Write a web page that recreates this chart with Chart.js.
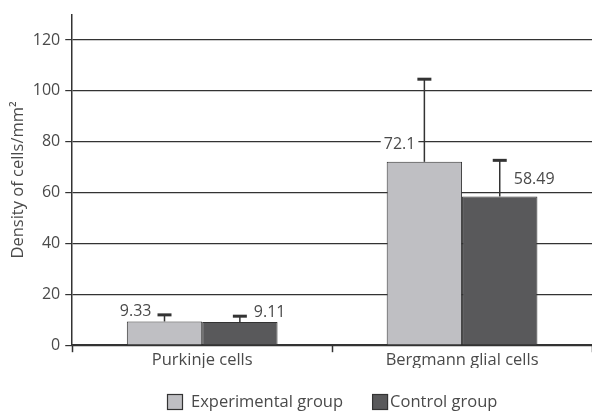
<!DOCTYPE html>
<html><head><meta charset="utf-8">
<script src="https://cdn.jsdelivr.net/npm/chart.js@4.4.1/dist/chart.umd.min.js"></script>
<style>html,body{margin:0;padding:0;background:#fff}#wrap{width:592px;height:412px}</style>
</head><body><div id="wrap"><canvas id="c" width="592" height="412"></canvas></div>
<script>
const categories = ["Purkinje cells", "Bergmann glial cells"];
const seriesNames = ["Experimental group", "Control group"];
const experimental = [9.33, 72.1];
const control = [9.11, 58.49];
const experimentalErr = [2.6, 32.5];
const controlErr = [2.3, 14.2];
const valueLabels = [["9.33", "72.1"], ["9.11", "58.49"]];
const yTicks = [0, 20, 40, 60, 80, 100, 120];

const FONT = "'Open Sans', 'Noto Sans', sans-serif";
const TXT = '#4a4a4a';
const FS = 16.5;

const errPlugin = {
  id: 'err',
  afterDatasetsDraw(chart) {
    const ctx = chart.ctx, y = chart.scales.y;
    const errs = [experimentalErr, controlErr];
    chart.data.datasets.forEach((ds, di) => {
      const meta = chart.getDatasetMeta(di);
      meta.data.forEach((bar, i) => {
        const v = ds.data[i], e = errs[di][i];
        const x = bar.x, y0 = y.getPixelForValue(v), y1 = y.getPixelForValue(v + e);
        ctx.save();
        ctx.strokeStyle = '#333';
        ctx.lineWidth = 1.5;
        ctx.beginPath(); ctx.moveTo(x, y0); ctx.lineTo(x, y1); ctx.stroke();
        ctx.lineWidth = 3;
        ctx.beginPath(); ctx.moveTo(x - 7, y1); ctx.lineTo(x + 7, y1); ctx.stroke();
        const txt = valueLabels[di][i];
        ctx.font = "16px " + FONT;
        ctx.textBaseline = 'middle';
        const ly = y0 - (i === 0 ? 10 : 17);
        const w = ctx.measureText(txt).width;
        let tx;
        if (di === 0) { ctx.textAlign = 'right'; tx = x - (i === 0 ? 13 : 9); ctx.fillStyle = '#fff'; ctx.fillRect(tx - w - 3, ly - 9, w + 6, 18); }
        else { ctx.textAlign = 'left'; tx = x + 14; ctx.fillStyle = '#fff'; ctx.fillRect(tx - 3, ly - 9, w + 6, 18); }
        ctx.fillStyle = TXT;
        ctx.fillText(txt, tx, ly);
        ctx.restore();
      });
    });
  }
};

const legendPlugin = {
  id: 'customLegend',
  afterDraw(chart) {
    const ctx = chart.ctx;
    ctx.save();
    ctx.font = FS + "px " + FONT;
    ctx.textBaseline = 'middle';
    ctx.textAlign = 'left';
    const cy = 402, box = 15;
    const items = chart.data.datasets.map(ds => ({ text: ds.label, fill: ds.backgroundColor }));
    const gapBox = 9, gapItem = 29;
    let x = 167;
    items.forEach((it, i) => {
      ctx.fillStyle = it.fill;
      ctx.fillRect(x + 0.5, cy - box / 2, box, box);
      ctx.strokeStyle = '#333'; ctx.lineWidth = 1.2;
      ctx.strokeRect(x + 0.5, cy - box / 2, box, box);
      x += box + (i === 0 ? gapBox : 3);
      ctx.fillStyle = TXT;
      ctx.fillText(it.text, x, cy);
      x += ctx.measureText(it.text).width + gapItem;
    });
    ctx.restore();
  }
};

new Chart(document.getElementById('c'), {
  type: 'bar',
  data: {
    labels: categories,
    datasets: [
      { label: seriesNames[0], data: experimental, backgroundColor: '#bfbfc3', borderColor: '#333', borderWidth: 1 },
      { label: seriesNames[1], data: control, backgroundColor: '#59595b', borderColor: '#333', borderWidth: 1 }
    ]
  },
  options: {
    responsive: false,
    animation: false,
    devicePixelRatio: 1,
    layout: { padding: { top: 8, right: 0, left: 1, bottom: 44 } },
    datasets: { bar: { categoryPercentage: 0.58, barPercentage: 1.0 } },
    plugins: {
      legend: { display: false },
      tooltip: { enabled: false }
    },
    scales: {
      x: {
        offset: true,
        grid: { offset: true, drawOnChartArea: false, tickLength: 7, color: '#333', tickWidth: 1.5 },
        border: { color: '#333', width: 1.5 },
        ticks: { color: TXT, font: { family: FONT, size: FS }, padding: -2 }
      },
      y: {
        min: 0, max: 130,
        afterBuildTicks(scale) { scale.ticks = yTicks.map(v => ({ value: v })); },
        grid: { color: '#333', lineWidth: 1.2, tickLength: 7 },
        border: { color: '#333', width: 1.5 },
        title: { display: true, text: 'Density of cells/mm²', color: TXT, font: { family: FONT, size: FS }, padding: { top: 7, bottom: 0 } },
        ticks: { color: TXT, font: { family: FONT, size: 16 }, padding: 5 }
      }
    }
  },
  plugins: [errPlugin, legendPlugin]
});
</script></body></html>
